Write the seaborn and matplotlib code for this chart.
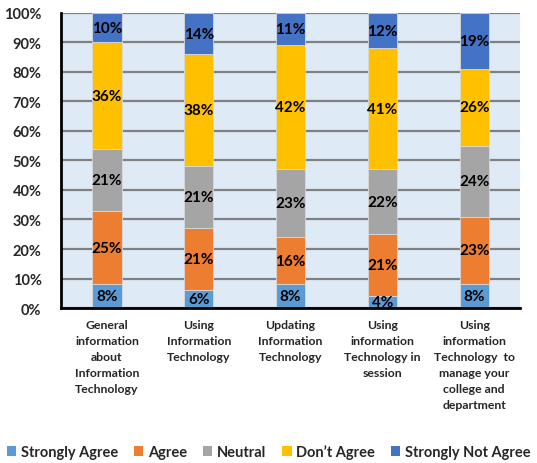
import matplotlib
matplotlib.use("Agg")
import matplotlib.pyplot as plt
import seaborn as sns
import numpy as np
from matplotlib.patches import Patch
from matplotlib.ticker import PercentFormatter

categories = [
    "General\ninformation\nabout\nInformation\nTechnology",
    "Using\nInformation\nTechnology",
    "Updating\nInformation\nTechnology",
    "Using\ninformation\nTechnology in\nsession",
    "Using\ninformation\nTechnology  to\nmanage your\ncollege and\ndepartment",
]
series_names = ["Strongly Agree", "Agree", "Neutral", "Don\u2019t Agree", "Strongly Not Agree"]
strongly_agree = [8, 6, 8, 4, 8]
agree = [25, 21, 16, 21, 23]
neutral = [21, 21, 23, 22, 24]
dont_agree = [36, 38, 42, 41, 26]
strongly_not_agree = [10, 14, 11, 12, 19]
colors = ["#5B9BD5", "#ED7D31", "#A5A5A5", "#FFC000", "#4472C4"]
y_ticks = [0, 10, 20, 30, 40, 50, 60, 70, 80, 90, 100]

sns.set_theme(style="white")
plt.rcParams["font.family"] = ["Lato", "DejaVu Sans"]
plt.rcParams["font.weight"] = "bold"

fig = plt.figure(figsize=(5.37, 4.64), dpi=100)
ax = fig.add_axes([0.1136, 0.334, 0.855, 0.636])
ax.set_facecolor("#DEEAF6")

series = [strongly_agree, agree, neutral, dont_agree, strongly_not_agree]
x = list(range(len(categories)))
bottom = np.zeros(len(categories))
for name, vals, col in zip(series_names, series, colors):
    vals = np.array(vals, dtype=float)
    sns.barplot(x=x, y=vals, bottom=bottom, color=col, width=0.32,
                saturation=1, ax=ax, edgecolor="#D9D9D9", linewidth=0.6,
                zorder=3, native_scale=True)
    for xi, v, b in zip(x, vals, bottom):
        ax.text(xi, b + v / 2, f"{int(v)}%", ha="center", va="center",
                fontsize=11, fontweight="bold", color="black", zorder=4)
    bottom += vals

ax.set_xlim(-0.5, len(categories) - 0.5)
ax.set_ylim(0, 100)
ax.set_yticks(y_ticks)
ax.yaxis.set_major_formatter(PercentFormatter(decimals=0))
ax.set_xticks(x)
ax.set_xticklabels(categories, fontsize=8.8, fontweight="bold", linespacing=1.55,
                   va="top")
for lbl in ax.get_yticklabels():
    lbl.set_fontweight("bold")
    lbl.set_fontsize(10.5)
ax.tick_params(axis="y", length=0, pad=14)
ax.tick_params(axis="x", length=0, pad=8)
ax.set_xlabel("")
ax.set_ylabel("")
ax.grid(axis="y", color="#808080", linewidth=1.6, zorder=1)
ax.set_axisbelow(True)
for s in ["top", "right"]:
    ax.spines[s].set_visible(False)
ax.spines["left"].set_color("black")
ax.spines["left"].set_linewidth(2)
ax.spines["bottom"].set_color("black")
ax.spines["bottom"].set_linewidth(2)
ax.spines["left"].set_zorder(5)
ax.spines["bottom"].set_zorder(5)

handles = [Patch(facecolor=c, edgecolor="none") for c in colors]
fig.legend(handles, series_names, loc="center", bbox_to_anchor=(0.5, 0.024),
           ncol=5, frameon=False, handlelength=0.65, handleheight=0.65,
           handletextpad=0.3, columnspacing=1.1,
           prop={"weight": "bold", "size": 10.5})

fig.savefig("out.png", dpi=100)
